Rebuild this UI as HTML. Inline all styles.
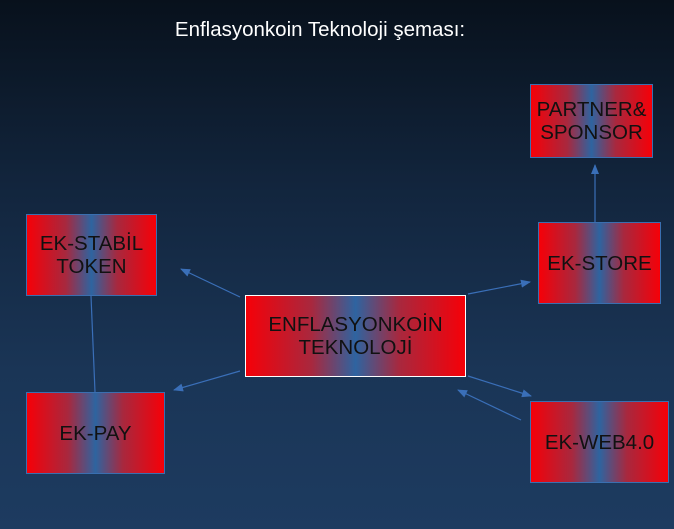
<!DOCTYPE html>
<html><head><style>
body{margin:0;width:674px;height:529px;overflow:hidden;background:linear-gradient(#08111c 0%,#12253d 35%,#1a3556 70%,#1d3b60 100%);font-family:"Liberation Sans",sans-serif;position:relative}
.t{position:absolute;left:0;top:18px;width:640px;text-align:center;color:#fff;font-size:20.5px}
.b{position:absolute;box-sizing:border-box;border:1px solid #3a6fb0;background:linear-gradient(90deg,#f60008 0%,#a8283e 30%,#2e64a0 50%,#a8283e 70%,#f60008 100%);display:flex;align-items:center;justify-content:center;text-align:center;color:#111;font-size:20.5px;line-height:23px}
</style></head><body>
<div class="t">Enflasyonkoin Teknoloji şeması:</div>
<svg width="674" height="529" style="position:absolute;left:0;top:0">
<defs><marker id="a" markerWidth="10" markerHeight="8" refX="9" refY="4" orient="auto" markerUnits="userSpaceOnUse"><path d="M0,0L10,4L0,8z" fill="#3a6fb8"/></marker></defs>
<g stroke="#3a6fb8" stroke-width="1.2" fill="none">
<line x1="595" y1="222" x2="595" y2="165" marker-end="url(#a)"/>
<line x1="468" y1="294" x2="530" y2="282" marker-end="url(#a)"/>
<line x1="240" y1="297" x2="181" y2="269" marker-end="url(#a)"/>
<line x1="240" y1="371" x2="174" y2="390" marker-end="url(#a)"/>
<line x1="468" y1="376" x2="531" y2="396" marker-end="url(#a)"/>
<line x1="521" y1="420" x2="458" y2="390" marker-end="url(#a)"/>
<line x1="91" y1="296" x2="95" y2="392"/>
</g></svg>
<div class="b" style="left:530px;top:84px;width:123px;height:74px">PARTNER&amp;<br>SPONSOR</div>
<div class="b" style="left:538px;top:222px;width:123px;height:82px">EK-STORE</div>
<div class="b" style="left:26px;top:214px;width:131px;height:82px">EK-STABİL<br>TOKEN</div>
<div class="b" style="left:245px;top:295px;width:221px;height:82px;border:1px solid #fff">ENFLASYONKOİN<br>TEKNOLOJİ</div>
<div class="b" style="left:26px;top:392px;width:139px;height:82px">EK-PAY</div>
<div class="b" style="left:530px;top:401px;width:139px;height:82px">EK-WEB4.0</div>
</body></html>
